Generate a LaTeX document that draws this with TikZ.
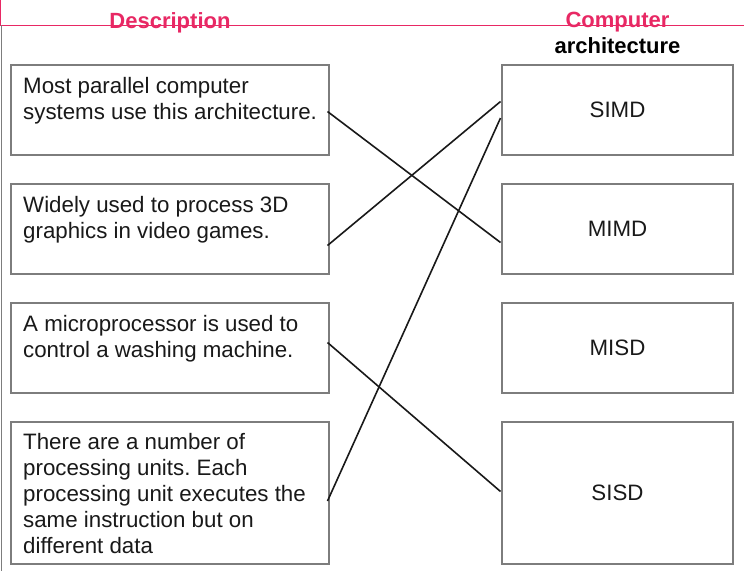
\documentclass[tikz,border=0pt]{standalone}
\usepackage{fontspec}
\setmainfont{Liberation Sans}
\frenchspacing
\definecolor{hdrpink}{RGB}{232,40,100}
\definecolor{boxgray}{RGB}{125,125,125}
\definecolor{inkdark}{RGB}{25,25,25}
\begin{document}
\begin{tikzpicture}[x=1pt,y=-1pt,
  descbox/.style={draw=boxgray,line width=1.4pt,rectangle,minimum width=318pt,inner sep=0pt,outer sep=0pt,anchor=north west},
  archbox/.style={draw=boxgray,line width=1.4pt,rectangle,minimum width=231pt,inner sep=0pt,outer sep=0pt,anchor=north west,font=\fontsize{22.3}{26}\selectfont,text=inkdark},
  desctext/.style={inner sep=0pt,anchor=base west,align=left,font=\fontsize{22.3}{26}\selectfont\frenchspacing,text=inkdark},
  hdr/.style={inner sep=0pt,anchor=base,font=\fontsize{22}{26}\selectfont\bfseries},
  link/.style={draw=inkdark,line width=1.6pt}]
\useasboundingbox (0,0) rectangle (744,571);
\fill[white] (0,0) rectangle (744,571);
% frame lines
\draw[hdrpink,line width=0.9pt] (0,25) -- (744,25);
\draw[hdrpink,line width=0.8pt] (0.4,0) -- (0.4,25);
\draw[boxgray,line width=1.2pt] (1.6,25) -- (1.6,571);
% headers
\node[hdr,text=hdrpink] (hdesc) at (170,28) {Description};
\node[hdr,text=hdrpink] (hcomp) at (617.5,27) {Computer};
\node[hdr,text=black] (harch) at (617.5,53) {architecture};
% description boxes
\node[descbox,minimum height=90pt] (L1) at (11,65) {};
\node[descbox,minimum height=90pt] (L2) at (11,184) {};
\node[descbox,minimum height=90pt] (L3) at (11,303) {};
\node[descbox,minimum height=142pt] (L4) at (11,422) {};
% text nodes: the base anchor is the baseline of the last line
\node[desctext] (t1) at (23,119) {Most parallel computer\\systems use this architecture.};
\node[desctext] (t2) at (23,238) {Widely used to process 3D\\graphics in video games.};
\node[desctext] (t3) at (23,357) {A microprocessor is used to\\control a washing machine.};
\node[desctext] (t4) at (23,553) {There are a number of\\processing units. Each\\processing unit executes the\\same instruction but on\\different data};
% architecture boxes
\node[archbox,minimum height=90pt] (R1) at (502,65) {SIMD};
\node[archbox,minimum height=90pt] (R2) at (502,184) {MIMD};
\node[archbox,minimum height=90pt] (R3) at (502,303) {MISD};
\node[archbox,minimum height=142pt] (R4) at (502,422) {SISD};
% connectors
\draw[link] ([xshift=-1.5pt,yshift=-1.5pt]L1.east) -- ([xshift=-1.5pt,yshift=-13.5pt]R2.west);
\draw[link] ([xshift=-1.5pt,yshift=-16.5pt]L2.east) -- ([xshift=-1.5pt,yshift=8.5pt]R1.west);
\draw[link] ([xshift=-1.5pt,yshift=-8pt]R1.west) -- ([xshift=-1.5pt,yshift=-8pt]L4.east);
\draw[link] ([xshift=-1.5pt,yshift=5.5pt]L3.east) -- ([xshift=-1.5pt,yshift=1.5pt]R4.west);
\end{tikzpicture}
\end{document}
